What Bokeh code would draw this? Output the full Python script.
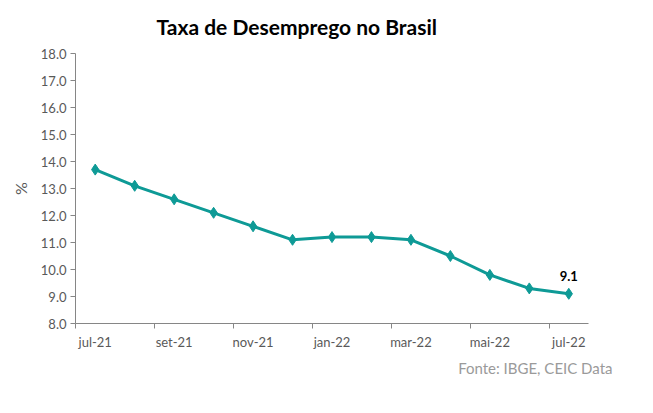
from bokeh.plotting import figure
from bokeh.models import FixedTicker, Title, Label, ColumnDataSource
from bokeh.embed import file_html
from bokeh.resources import INLINE

months = ["jul-21", "ago-21", "set-21", "out-21", "nov-21", "dez-21", "jan-22",
          "fev-22", "mar-22", "abr-22", "mai-22", "jun-22", "jul-22"]
rate = [13.7, 13.1, 12.6, 12.1, 11.6, 11.1, 11.2, 11.2, 11.1, 10.5, 9.8, 9.3, 9.1]
y_ticks = [8, 9, 10, 11, 12, 13, 14, 15, 16, 17, 18]

FONT = "Lato"
GRAY = "#595959"
TEAL = "#0E9A96"

idx = list(range(len(months)))
src = ColumnDataSource(dict(x=idx, y=rate))

p = figure(width=637, height=397, output_backend="svg", toolbar_location=None,
           x_range=(-0.5, len(months) - 0.5), y_range=(8, 18),
           min_border_left=75, min_border_right=49, min_border_top=53, min_border_bottom=74)
p.outline_line_color = None
p.grid.visible = False

p.line("x", "y", source=src, line_color=TEAL, line_width=3)
p.scatter("x", "y", source=src, marker="diamond", size=11, fill_color=TEAL, line_color=TEAL)

lab_idx = idx[::2]
p.xaxis.ticker = FixedTicker(ticks=lab_idx, minor_ticks=[i - 0.5 for i in lab_idx])
p.xaxis.major_label_overrides = {i: months[i] for i in lab_idx}
p.xaxis.major_tick_line_color = None
p.xaxis.major_tick_out = 0
p.xaxis.major_tick_in = 0
p.xaxis.minor_tick_out = 5
p.xaxis.minor_tick_in = 0
p.xaxis.minor_tick_line_color = "#868686"
p.xaxis.axis_line_color = "#868686"
p.xaxis.major_label_text_color = GRAY
p.xaxis.major_label_text_font = FONT
p.xaxis.major_label_text_font_size = "13px"
p.xaxis.major_label_standoff = 5

p.yaxis.ticker = FixedTicker(ticks=y_ticks, minor_ticks=[])
p.yaxis.major_label_overrides = {t: f"{t:.1f}" for t in y_ticks}
p.yaxis.axis_line_color = "#868686"
p.yaxis.major_tick_line_color = "#868686"
p.yaxis.major_tick_out = 5
p.yaxis.major_tick_in = 0
p.yaxis.minor_tick_line_color = None
p.yaxis.major_label_text_color = GRAY
p.yaxis.major_label_text_font = FONT
p.yaxis.major_label_text_font_size = "13px"
p.yaxis.major_label_standoff = 4
p.yaxis.axis_label = "%"
p.yaxis.axis_label_text_color = GRAY
p.yaxis.axis_label_text_font = FONT
p.yaxis.axis_label_text_font_style = "normal"
p.yaxis.axis_label_text_font_size = "16px"
p.yaxis.axis_label_standoff = 8

p.add_layout(Label(x=idx[-1], y=rate[-1], text=f"{rate[-1]:.1f}", text_align="center",
                   y_offset=13, text_font=FONT, text_font_style="bold",
                   text_font_size="13px", text_color="black"))

t = Title(text="Taxa de Desemprego no Brasil", align="left", offset=81,
          vertical_align="top", text_font=FONT, text_font_style="bold",
          text_font_size="21px", text_color="black", standoff=26)
p.add_layout(t, "above")

src_t = Title(text="Fonte: IBGE, CEIC Data", align="right", offset=-24,
              text_font=FONT, text_font_style="normal", text_font_size="15px",
              text_color="#9A9A9A", standoff=8)
p.add_layout(src_t, "below")

open("out.html", "w").write(file_html(p, INLINE))
